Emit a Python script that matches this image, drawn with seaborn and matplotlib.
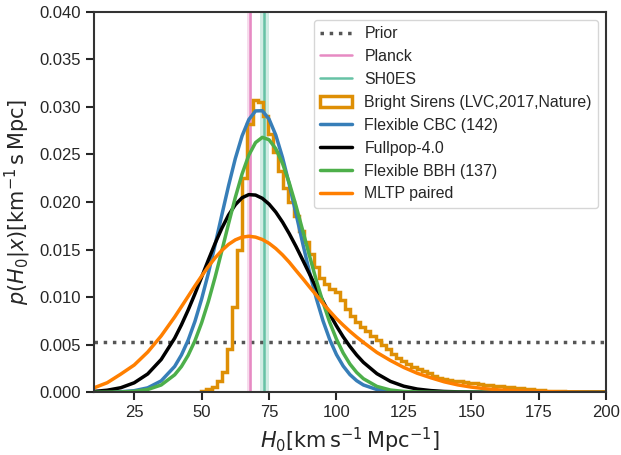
# H0 posterior comparison plot

import numpy as np
import seaborn as sns
from matplotlib import pyplot as plt

h0_grid = [10, 15, 20, 25, 30, 35, 40, 42.5, 45, 47.5, 50, 52.5, 55, 57.5,
           60, 62.5, 65, 67.5, 70, 72.5, 75, 77.5, 80, 82.5, 85, 87.5, 90,
           92.5, 95, 97.5, 100, 102.5, 105, 107.5, 110, 115, 120, 125, 130,
           135, 140, 145, 150, 155, 160, 165, 170, 175, 180, 185, 190, 195, 200]

flexible_cbc = [0.0, 0.00001, 0.00005, 0.00016, 0.00046, 0.00119, 0.00271,
                0.00391, 0.00547, 0.00743, 0.0098, 0.01252, 0.01551, 0.01865,
                0.02173, 0.02458, 0.02695, 0.02867, 0.02958, 0.0296, 0.02872,
                0.02704, 0.02468, 0.02186, 0.01877, 0.01563, 0.01263, 0.0099,
                0.00752, 0.00554, 0.00396, 0.00275, 0.00185, 0.00121, 0.00076,
                0.00028, 0.00009, 0.00003, 0.00001, 0, 0, 0, 0, 0, 0, 0, 0,
                0, 0, 0, 0, 0, 0]

fullpop = [0.00008, 0.00021, 0.00047, 0.00099, 0.00192, 0.00344, 0.00568,
           0.00708, 0.00864, 0.01033, 0.01211, 0.01391, 0.01565, 0.01725,
           0.01864, 0.01972, 0.02045, 0.02078, 0.02073, 0.02039, 0.01978,
           0.01894, 0.01789, 0.01667, 0.01533, 0.0139, 0.01244, 0.01098,
           0.00957, 0.00822, 0.00697, 0.00582, 0.00481, 0.00391, 0.00314,
           0.00195, 0.00114, 0.00063, 0.00033, 0.00017, 0.00008, 0.00004,
           0.00002, 0, 0, 0, 0, 0, 0, 0, 0, 0, 0]

flexible_bbh = [0.0, 0.00001, 0.00003, 0.00009, 0.00028, 0.00076, 0.00183,
                0.0027, 0.00388, 0.0054, 0.0073, 0.00954, 0.0121, 0.01488,
                0.01774, 0.02049, 0.02295, 0.02493, 0.02625, 0.0268, 0.02655,
                0.02561, 0.02406, 0.02201, 0.0196, 0.01699, 0.01435, 0.01179,
                0.00944, 0.00735, 0.00558, 0.00412, 0.00296, 0.00208, 0.00142,
                0.00061, 0.00023, 0.00008, 0.00003, 0.00001, 0, 0, 0, 0, 0,
                0, 0, 0, 0, 0, 0, 0, 0]

mltp_paired = [0.00045, 0.001, 0.0019, 0.00286, 0.00422, 0.00592, 0.00791,
               0.00899, 0.01008, 0.01117, 0.01222, 0.01322, 0.01413, 0.01491,
               0.01555, 0.01602, 0.01631, 0.0164, 0.01631, 0.01606, 0.01566,
               0.01511, 0.01444, 0.01367, 0.0128, 0.01195, 0.01107, 0.01022,
               0.00934, 0.00852, 0.00774, 0.00705, 0.0064, 0.0058, 0.00524,
               0.00418, 0.00334, 0.0026, 0.00199, 0.00152, 0.00109, 0.00077,
               0.00054, 0.00037, 0.00025, 0.00017, 0.00011, 0.00007, 0.00005,
               0.00003, 0.00002, 0.00001, 0.00001]

# bright siren (GW170817) histogram, bins of width 1.9 from 49.9 to 200
bright_sirens = [0.0001, 0.0003, 0.0006, 0.0012, 0.0021, 0.0045, 0.0090, 0.0150, 0.0225, 0.0282,
                 0.0307, 0.0305, 0.0290, 0.0272, 0.0253, 0.0233, 0.0215, 0.0200, 0.0185, 0.0170,
                 0.0158, 0.0145, 0.0132, 0.0120, 0.0114, 0.0109, 0.0105, 0.0097, 0.0088, 0.0080,
                 0.0074, 0.0069, 0.0064, 0.0059, 0.0055, 0.0050, 0.0045, 0.0040, 0.0036, 0.0033,
                 0.0030, 0.0027, 0.0024, 0.0022, 0.0020, 0.0017, 0.0015, 0.0014, 0.0013, 0.0012,
                 0.0012, 0.0011, 0.0010, 0.0010, 0.0009, 0.0008, 0.0008, 0.0007, 0.0007, 0.0006,
                 0.0005, 0.0004, 0.0004, 0.0003, 0.0003, 0.0002, 0.0002, 0.00015, 0.0001, 0.0001,
                 0.00008, 0.00007, 0.00006, 0.00005, 0.00005, 0.00004, 0.00004, 0.00003, 0.00003]
hist_range = (49.9, 200)

prior_density = 1 / 190
planck = (67.8, 0.9)
shoes = (73.24, 1.74)

curves = [
    ("Flexible CBC (142)", flexible_cbc, "#377eb8"),
    ("Fullpop-4.0", fullpop, "black"),
    ("Flexible BBH (137)", flexible_bbh, "#4daf4a"),
    ("MLTP paired", mltp_paired, "#ff7f00"),
]

sns.set_theme(style="ticks", context="notebook")
plt.rcParams['font.family'] = ['Liberation Sans', 'DejaVu Sans']
plt.rcParams['axes.edgecolor'] = '#333333'

fig, ax = plt.subplots(figsize=(6.21, 4.55), dpi=100)
fig.subplots_adjust(left=0.151, right=0.976, top=0.974, bottom=0.138)

ax.axhline(prior_density, color="#555555", ls=":", lw=2.5, label="Prior")
ax.axvline(planck[0], color="#e78ac3", lw=1.8, label="Planck")
ax.axvspan(planck[0] - planck[1], planck[0] + planck[1], color="#e78ac3", alpha=0.3, lw=0)
ax.axvline(shoes[0], color="#66c2a5", lw=1.8, label="SH0ES")
ax.axvspan(shoes[0] - shoes[1], shoes[0] + shoes[1], color="#66c2a5", alpha=0.3, lw=0)

edges = np.linspace(hist_range[0], hist_range[1], len(bright_sirens) + 1)
centers = (edges[:-1] + edges[1:]) / 2
ax.hist(centers, bins=edges, weights=bright_sirens, histtype="step",
        color="#de8f05", lw=2.5, label="Bright Sirens (LVC,2017,Nature)")

for name, vals, col in curves:
    sns.lineplot(x=h0_grid, y=vals, color=col, lw=2.5, label=name, ax=ax)

ax.set_xlim(10, 200)
ax.set_ylim(0, 0.04)
ax.set_xlabel(r"$H_0[\mathrm{km\,s^{-1}\,Mpc^{-1}}]$", fontsize=15)
ax.set_ylabel(r"$p(H_0|x)[\mathrm{km^{-1}\,s\,Mpc}]$", fontsize=15)
ax.tick_params(labelsize=12, width=1.5, length=6)
for sp in ax.spines.values():
    sp.set_linewidth(1.5)

ax.legend(loc="upper right", fontsize=11.4)

plt.savefig("out.png", dpi=100)
